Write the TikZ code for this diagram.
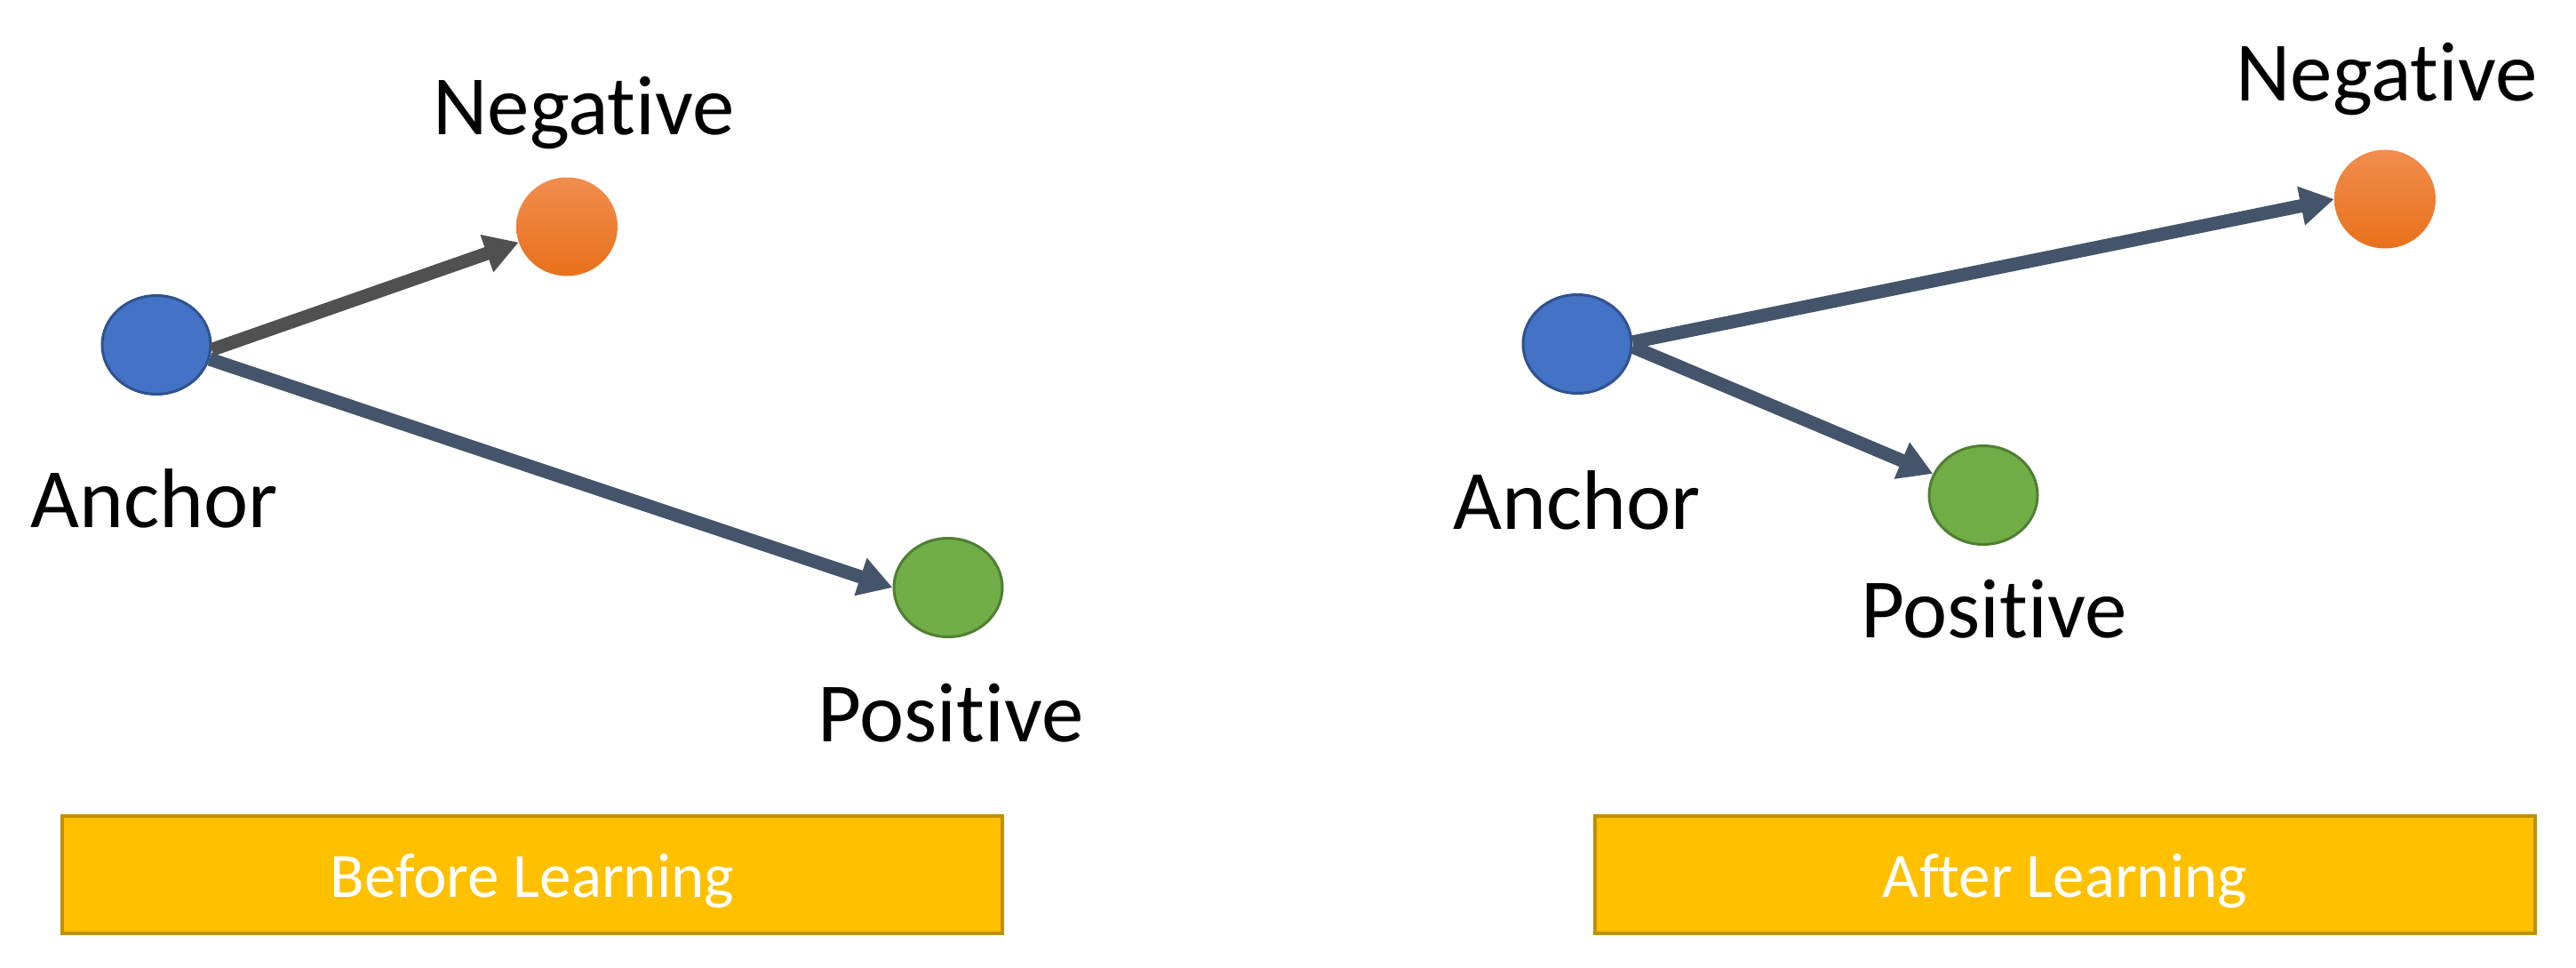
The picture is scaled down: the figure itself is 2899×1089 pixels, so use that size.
\documentclass[tikz,border=0pt]{standalone}
\usepackage{fontspec}
\setmainfont[Ligatures=NoCommon]{Carlito}
\usetikzlibrary{shapes.geometric,arrows.meta}
\definecolor{ancfill}{HTML}{4472C4}
\definecolor{ancdraw}{HTML}{2F528F}
\definecolor{posfill}{HTML}{70AD47}
\definecolor{posdraw}{HTML}{507E32}
\definecolor{negtop}{HTML}{F18D4E}
\definecolor{negbot}{HTML}{E8711A}
\definecolor{arrgrey}{HTML}{505050}
\definecolor{arrslate}{HTML}{44546A}
\definecolor{boxfill}{HTML}{FFC000}
\definecolor{boxdraw}{HTML}{BF9000}
\tikzset{
  dot/.style={ellipse, inner sep=0pt, minimum width=122pt, minimum height=111pt},
  ancdot/.style={dot, fill=ancfill, draw=ancdraw, line width=3pt},
  posdot/.style={dot, fill=posfill, draw=posdraw, line width=3pt},
  negdot/.style={dot, minimum width=114pt, top color=negtop, bottom color=negbot, draw=none},
  lbl/.style={anchor=base, inner sep=0pt, font=\fontsize{95}{114}\selectfont},
  arr/.style={line width=15pt, -{Triangle[length=38pt,width=42pt]}},
  titlebox/.style={rectangle, fill=boxfill, draw=boxdraw, line width=4pt,
    minimum width=1058pt, minimum height=132pt, inner sep=0pt,
    text=white, font=\fontsize{71}{85}\selectfont, text height=50pt, text depth=0pt}
}
\begin{document}
\begin{tikzpicture}[x=1pt,y=-1pt]
\useasboundingbox (0,0) rectangle (2899,1089);
% Left panel
\node[ancdot] (aL) at (176,388) {};
\node[negdot] (nL) at (638,255) {};
\node[posdot] (pL) at (1067,661) {};
\node[lbl] (taL) at (174,593) {Anchor};
\node[lbl] (tnL) at (657,151) {Negative};
\node[lbl] (tpL) at (1070,834) {Positive};
\draw[arr, arrgrey] (aL.-5) -- (nL.198);
\draw[arr, arrslate] (aL.-15) -- (pL.west);
\node[titlebox] (bL) at (599,984) {Before Learning};
% Right panel
\node[ancdot] (aR) at (1775,387) {};
\node[negdot] (nR) at (2684,224) {};
\node[posdot] (pR) at (2232,557) {};
\node[lbl] (taR) at (1775,595) {Anchor};
\node[lbl] (tnR) at (2686,114) {Negative};
\node[lbl] (tpR) at (2244,717) {Positive};
\draw[arr, arrslate] (aR.2) -- (nR.west);
\draw[arr, arrslate] (aR.-3) -- (pR.157);
\node[titlebox] (bR) at (2324,984) {After Learning};
\end{tikzpicture}
\end{document}
